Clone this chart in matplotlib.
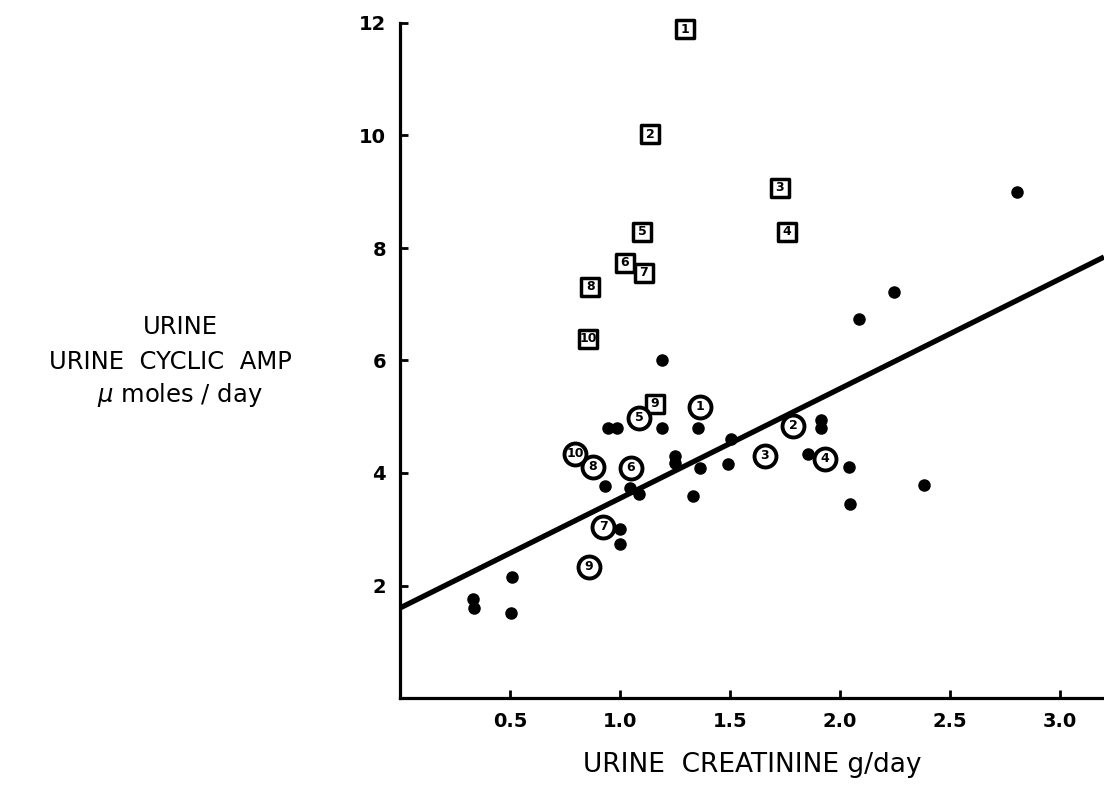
import numpy as np
import matplotlib
matplotlib.use("Agg")
import matplotlib.pyplot as plt

# unnumbered patients (dots)
dot_x = [1.191, 0.945, 0.986, 1.191, 1.355, 1.25, 1.25, 1.491, 1.364, 1.505,
         0.932, 1.045, 1.086, 1.332, 1.0, 1.0, 0.509, 0.332, 0.336, 0.505,
         1.855, 1.914, 1.914, 2.041, 2.045, 2.805, 2.245, 2.086, 2.382]
dot_y = [6.01, 4.80, 4.80, 4.80, 4.80, 4.31, 4.18, 4.16, 4.09, 4.61,
         3.77, 3.74, 3.63, 3.60, 3.00, 2.74, 2.15, 1.76, 1.60, 1.51,
         4.34, 4.95, 4.80, 4.11, 3.45, 9.00, 7.21, 6.73, 3.79]

# numbered squares
sq_labels = ["1", "2", "3", "4", "5", "6", "7", "8", "9", "10"]
sq_x = [1.295, 1.136, 1.727, 1.759, 1.10, 1.023, 1.109, 0.864, 1.159, 0.855]
sq_y = [11.89, 10.02, 9.07, 8.29, 8.29, 7.74, 7.56, 7.31, 5.23, 6.39]

# numbered circles
circ_labels = ["1", "2", "3", "4", "5", "6", "7", "8", "9", "10"]
circ_x = [1.364, 1.786, 1.659, 1.932, 1.086, 1.05, 0.923, 0.877, 0.859, 0.795]
circ_y = [5.18, 4.84, 4.31, 4.25, 4.98, 4.09, 3.04, 4.11, 2.33, 4.34]

# regression line
intercept = 1.60
slope = 1.95

xticks = [0.5, 1.0, 1.5, 2.0, 2.5, 3.0]
xtick_labels = ["0.5", "1.0", "1.5", "2.0", "2.5", "3.0"]
yticks = [2, 4, 6, 8, 10, 12]

fig = plt.figure(figsize=(11.04, 7.91), dpi=100)
ax = fig.add_axes([400/1104, 93/791, 704/1104, 675/791])

ax.set_xlim(0, 3.2)
ax.set_ylim(0, 12)

lx = np.array([0, 3.2])
ax.plot(lx, intercept + slope*lx, color="black", lw=3.8, solid_capstyle="butt", zorder=2, clip_on=False)

ax.scatter(dot_x, dot_y, s=64, color="black", zorder=3, clip_on=False)

ax.scatter(sq_x, sq_y, marker="s", s=170, facecolor="white", edgecolor="black",
           linewidth=2.5, zorder=4, clip_on=False)
for lab, x, y in zip(sq_labels, sq_x, sq_y):
    ax.text(x, y, lab, ha="center", va="center", fontsize=9, fontweight="bold", zorder=5, clip_on=False)

ax.scatter(circ_x, circ_y, marker="o", s=250, facecolor="white", edgecolor="black",
           linewidth=2.8, zorder=4, clip_on=False)
for lab, x, y in zip(circ_labels, circ_x, circ_y):
    ax.text(x, y, lab, ha="center", va="center", fontsize=9, fontweight="bold", zorder=5)

for s in ["top", "right"]:
    ax.spines[s].set_visible(False)
for s in ["left", "bottom"]:
    ax.spines[s].set_linewidth(2.3)

ax.set_xticks(xticks)
ax.set_xticklabels(xtick_labels)
ax.set_yticks(yticks)
ax.tick_params(direction="in", length=6, width=2, labelsize=14, pad=10)
for t in ax.get_xticklabels() + ax.get_yticklabels():
    t.set_fontweight("bold")

ax.set_xlabel("URINE  CREATININE g/day", fontsize=19, labelpad=15)

fig.text(180/1104, 1 - 327/791, "URINE", ha="center", va="center", fontsize=17.5)
fig.text(170/1104, 1 - 362/791, "URINE  CYCLIC  AMP", ha="center", va="center", fontsize=17.5)
fig.text(180/1104, 1 - 395/791, r"$\mu$ moles / day", ha="center", va="center", fontsize=17.5)

fig.savefig("out.png", dpi=100)
